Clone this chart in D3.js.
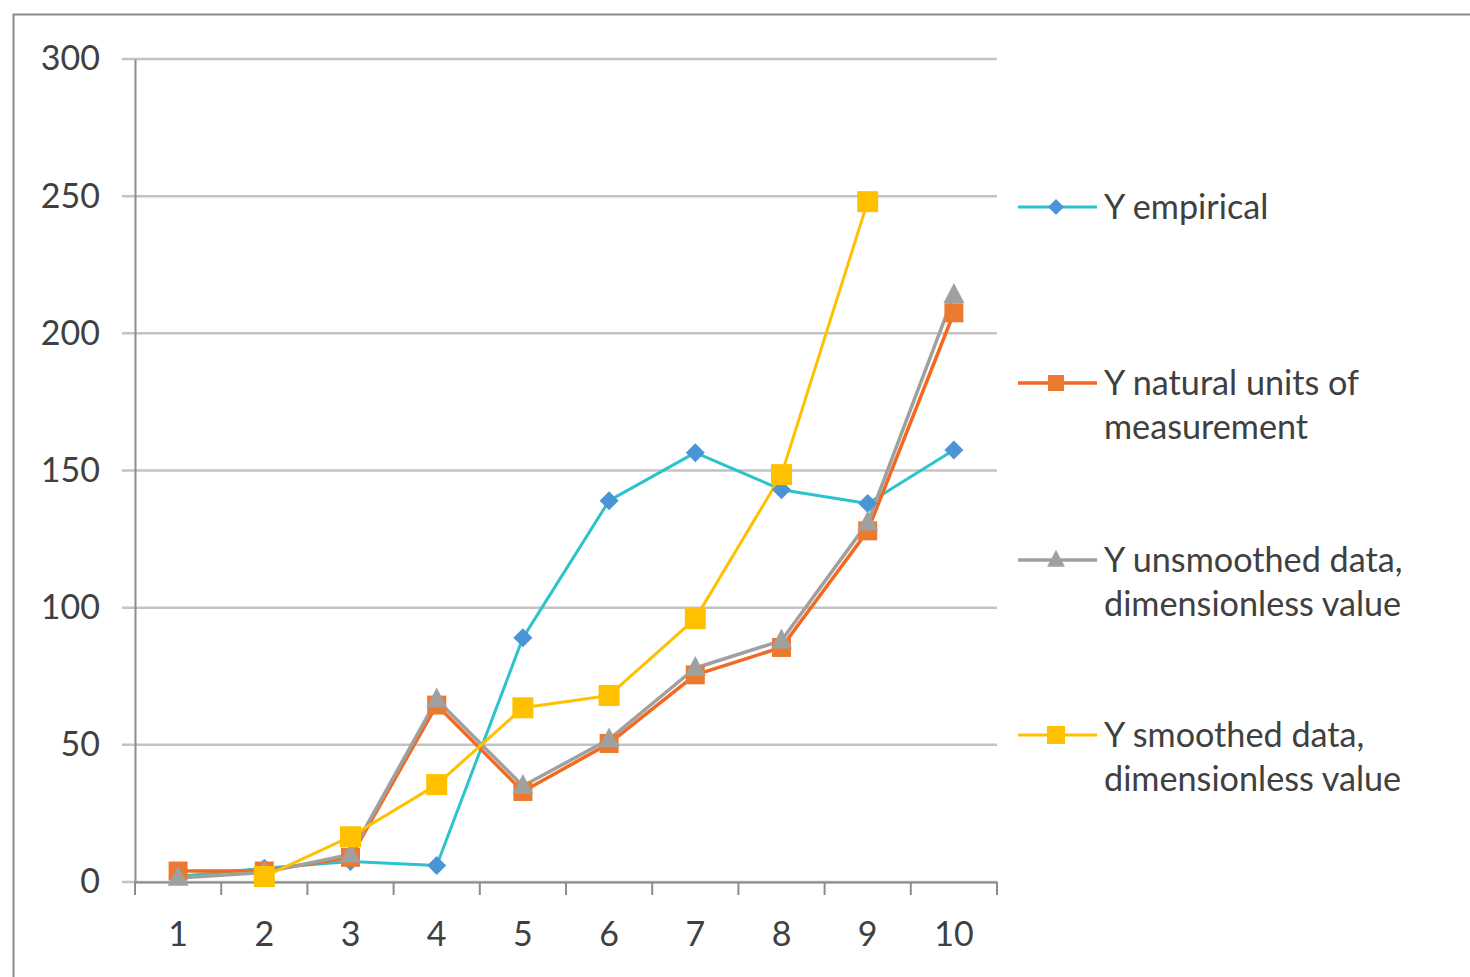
<!DOCTYPE html>
<html>
<head>
<meta charset="utf-8">
<script src="https://cdn.jsdelivr.net/npm/d3@7"></script>
<style>
  html, body { margin: 0; padding: 0; background: #fff; }
  svg { display: block; }
</style>
</head>
<body>
<svg id="chart" width="1470" height="977"></svg>
<script>
// Category labels along the x axis
const categories = [1, 2, 3, 4, 5, 6, 7, 8, 9, 10];

// Series values
const yEmpirical   = [2, 5, 7.5, 6, 89, 139, 156.5, 143, 138, 157.5];
const yNatural     = [4, 4, 9, 64.5, 33, 50.5, 75.5, 85.5, 128, 207.5];
const yUnsmoothed  = [1.5, 3.5, 10, 66.5, 35, 52, 78, 88, 131, 214];
const ySmoothed    = [null, 2, 16.5, 35.5, 63.5, 68, 96, 148.5, 248, null];

// Value axis ticks
const yTicks = [0, 50, 100, 150, 200, 250, 300];

const seriesNames = [
  ["Y empirical"],
  ["Y natural units of", "measurement"],
  ["Y unsmoothed data,", "dimensionless value"],
  ["Y smoothed data,", "dimensionless value"]
];

const series = [
  { values: yEmpirical,  name: seriesNames[0], line: "#2cc3cb", fill: "#4b94d6", shape: "diamond",  lw: 3,   ms: 19 },
  { values: yNatural,    name: seriesNames[1], line: "#f26a21", fill: "#ec7a2e", shape: "square",   lw: 3.5, ms: 19 },
  { values: yUnsmoothed, name: seriesNames[2], line: "#a0a0a0", fill: "#a0a0a0", shape: "triangle", lw: 3.5, ms: 21 },
  { values: ySmoothed,   name: seriesNames[3], line: "#ffc000", fill: "#ffc000", shape: "square",   lw: 3,   ms: 21 }
];

const svg = d3.select("#chart");
const font = "Lato, 'Open Sans', sans-serif";
const textColor = "#404040";

// Outer chart frame
svg.append("rect")
  .attr("x", 13.5).attr("y", 14.5)
  .attr("width", 1500).attr("height", 1000)
  .attr("fill", "#fff").attr("stroke", "#8a8a8a").attr("stroke-width", 2);

const plot = { left: 135, right: 997, top: 59, bottom: 882 };

const x = d3.scaleBand().domain(categories).range([plot.left, plot.right]);
const y = d3.scaleLinear().domain([0, 300]).range([plot.bottom, plot.top]);
const cx = c => x(c) + x.bandwidth() / 2;

// Horizontal gridlines (extended left to form the outward tick)
svg.append("g").selectAll("line").data(yTicks).join("line")
  .attr("x1", plot.left - 13).attr("x2", plot.right)
  .attr("y1", d => y(d)).attr("y2", d => y(d))
  .attr("stroke", "#c3c3c3").attr("stroke-width", 2.5);

// Y axis line and labels
const yAxis = svg.append("g").attr("transform", `translate(${plot.left},0)`)
  .call(d3.axisLeft(y).tickValues(yTicks).tickSize(0).tickPadding(35));
yAxis.select(".domain").attr("stroke", "#8c8c8c").attr("stroke-width", 2);
yAxis.selectAll("text").attr("font-family", font).attr("font-size", 34).attr("fill", textColor);

// X axis: labels centred in each category, ticks on the boundaries
const xAxis = svg.append("g").attr("transform", `translate(0,${plot.bottom})`)
  .call(d3.axisBottom(x).tickSize(0).tickPadding(40));
xAxis.select(".domain").attr("stroke", "#8c8c8c").attr("stroke-width", 2);
xAxis.selectAll("text").attr("font-family", font).attr("font-size", 34).attr("fill", textColor);

const bounds = categories.map(c => x(c)).concat([plot.right]);
svg.append("g").selectAll("line").data(bounds).join("line")
  .attr("x1", d => d).attr("x2", d => d)
  .attr("y1", plot.bottom).attr("y2", plot.bottom + 13)
  .attr("stroke", "#8c8c8c").attr("stroke-width", 2);

// Marker path generator
function markerPath(shape, s) {
  const h = s / 2;
  if (shape === "diamond") return `M0,${-h}L${h},0L0,${h}L${-h},0Z`;
  if (shape === "square") return `M${-h},${-h}H${h}V${h}H${-h}Z`;
  const th = s * 0.95;
  return `M0,${-th * 0.6}L${h},${th * 0.4}L${-h},${th * 0.4}Z`;
}

const line = d3.line()
  .defined(d => d.v !== null)
  .x(d => cx(d.c)).y(d => y(d.v));

// Lines first, then markers on top
series.forEach(s => {
  const pts = categories.map((c, i) => ({ c, v: s.values[i] }));
  svg.append("path").datum(pts)
    .attr("d", line).attr("fill", "none")
    .attr("stroke", s.line).attr("stroke-width", s.lw)
    .attr("stroke-linejoin", "round");
});
series.forEach(s => {
  const pts = categories.map((c, i) => ({ c, v: s.values[i] })).filter(d => d.v !== null);
  svg.append("g").selectAll("path").data(pts).join("path")
    .attr("transform", d => `translate(${cx(d.c)},${y(d.v)})`)
    .attr("d", markerPath(s.shape, s.ms))
    .attr("fill", s.fill);
});

// Legend
const legendY = [207, 383, 560, 735];
const lg = svg.append("g");
series.forEach((s, i) => {
  const g = lg.append("g").attr("transform", `translate(0,${legendY[i]})`);
  g.append("line").attr("x1", 1018).attr("x2", 1097).attr("y1", 0).attr("y2", 0)
    .attr("stroke", s.line).attr("stroke-width", s.lw);
  g.append("path").attr("transform", "translate(1056,0)")
    .attr("d", markerPath(s.shape, s.ms - 3)).attr("fill", s.fill);
  s.name.forEach((t, j) => {
    g.append("text").attr("x", 1104).attr("y", j * 44)
      .attr("dy", "0.35em")
      .attr("font-family", font).attr("font-size", 34.2).attr("fill", textColor)
      .text(t);
  });
});
</script>
</body>
</html>
